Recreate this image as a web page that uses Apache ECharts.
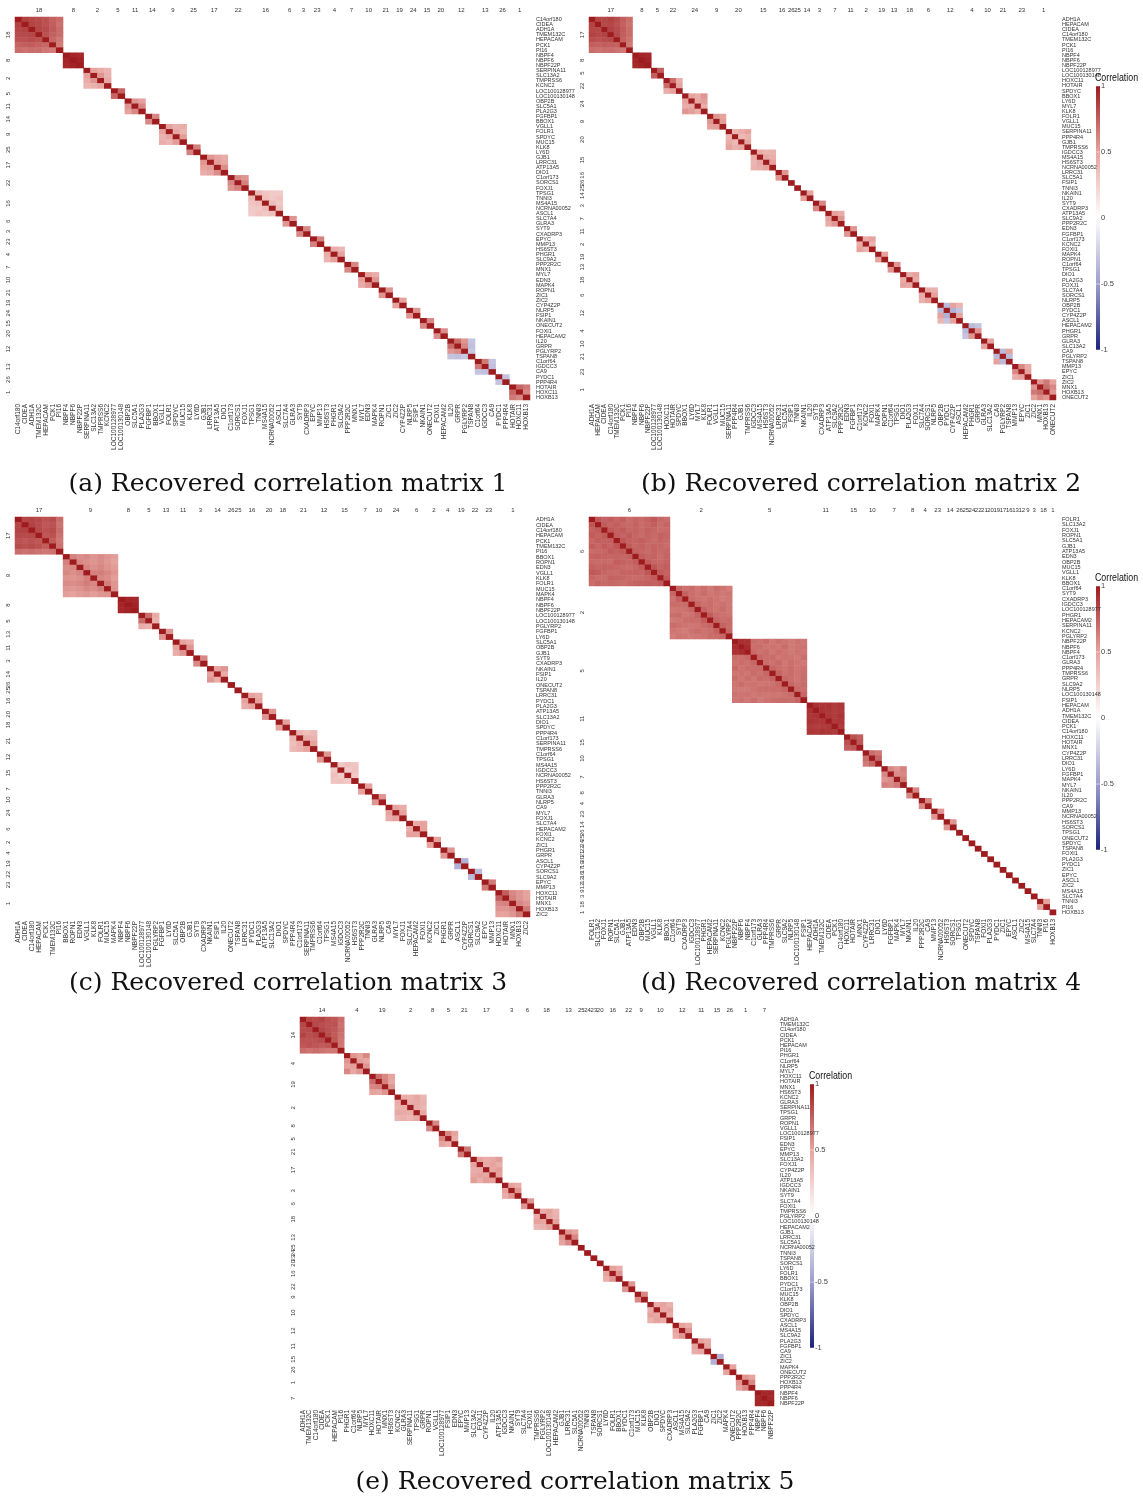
<!DOCTYPE html>
<html>
<head>
<meta charset="utf-8">
<script src="https://cdn.jsdelivr.net/npm/echarts@6/dist/echarts.min.js"></script>
<style>
  html, body { margin: 0; padding: 0; background: #fff; }
  #main { width: 1143px; height: 1498px; }
</style>
</head>
<body>
<div id="main"></div>
<script>
var chart = echarts.init(document.getElementById('main'));

// ---------- matrix 1 ----------
var genes1 = ['C14orf180','CIDEA','ADH1A','TMEM132C','HEPACAM','PCK1','PI16','NBPF4','NBPF6','NBPF22P',
  'SERPINA11','SLC13A2','TMPRSS6','KCNC2','LOC100128977','LOC100130148','OBP2B','SLC5A1','PLA2G3','FGFBP1',
  'BBOX1','VGLL1','FOLR1','SPDYC','MUC15','KLK8','LY6D','GJB1','LRRC31','ATP13A5','DIO1','C1orf173','SORCS1',
  'FOXJ1','TPSG1','TNNI3','MS4A15','NCRNA00052','ASCL1','SLC7A4','GLRA3','SYT9','CXADRP3','EPYC','MMP13',
  'HS6ST3','PHGR1','SLC9A2','PPP2R2C','MNX1','MYL7','EDN3','MAPK4','ROPN1','ZIC1','ZIC2','CYP4Z2P','NLRP5',
  'FSIP1','NKAIN1','ONECUT2','FOXI1','HEPACAM2','IL20','GRPR','PGLYRP2','TSPAN8','C1orf64','IGDCC3','CA9',
  'PYDC1','PPP4R4','HOTAIR','HOXC11','HOXB13'];
var clusters1 = [18,8,2,5,11,14,9,25,17,22,16,6,3,23,4,7,10,21,19,24,15,20,12,13,26,1];
var sizes1 = [7,3,4,2,3,2,4,2,4,3,5,2,2,2,3,2,3,2,2,2,2,2,4,3,2,3];
// upper triangle (row by row) of each block, diagonal = 1
var corr1 = [
  [0.86,0.84,0.82,0.80,0.74,0.70, 0.85,0.83,0.80,0.75,0.68, 0.84,0.82,0.76,0.70, 0.80,0.74,0.70, 0.72,0.66, 0.64],
  [0.96,0.95,0.97],
  [0.50,0.45,0.40,0.55,0.42,0.48],
  [0.72],
  [0.55,0.50,0.60],
  [0.60],
  [0.50,0.42,0.45,0.48,0.40,0.52],
  [0.62],
  [0.55,0.50,0.45,0.52,0.48,0.58],
  [0.60,0.55,0.62],
  [0.38,0.32,0.30,0.28,0.35,0.30,0.33,0.36,0.30,0.34],
  [0.55],
  [0.60],
  [0.62],
  [0.45,0.40,0.50],
  [0.60],
  [0.50,0.45,0.55],
  [0.55],
  [0.50],
  [0.55],
  [0.60],
  [0.58],
  [0.70,0.55,-0.30,0.60,-0.32,-0.28],
  [0.65,-0.30,-0.32],
  [-0.30],
  [0.72,0.65,0.60]
];

// ---------- matrix 2 ----------
var genes2 = ['ADH1A','HEPACAM','CIDEA','C14orf180','TMEM132C','PCK1','PI16','NBPF4','NBPF6','NBPF22P',
  'LOC100128977','LOC100130148','HOXC11','HOTAIR','SPDYC','BBOX1','LY6D','MYL7','KLK8','FOLR1','VGLL1','MUC15',
  'SERPINA11','PPP4R4','GJB1','TMPRSS6','IGDCC3','MS4A15','HS6ST3','NCRNA00052','LRRC31','SLC5A1','FSIP1',
  'TNNI3','NKAIN1','IL20','SYT9','CXADRP3','ATP13A5','SLC9A2','PPP2R2C','EDN3','FGFBP1','C1orf173','KCNC2',
  'FOXI1','MAPK4','ROPN1','C1orf64','TPSG1','DIO1','PLA2G3','FOXJ1','SLC7A4','SORCS1','NLRP5','OBP2B','PYDC1',
  'CYP4Z2P','ASCL1','HEPACAM2','PHGR1','GRPR','GLRA3','SLC13A2','CA9','PGLYRP2','TSPAN8','MMP13','EPYC','ZIC1',
  'ZIC2','MNX1','HOXB13','ONECUT2'];
var clusters2 = [17,8,5,22,24,9,20,15,16,26,25,14,3,7,11,2,19,13,18,6,12,4,10,21,23,1];
var sizes2 = [7,3,2,3,4,3,4,4,2,1,1,2,2,3,2,3,2,2,3,3,4,3,2,3,3,4];
var corr2 = [
  [0.85,0.84,0.86,0.82,0.75,0.70, 0.83,0.84,0.80,0.74,0.68, 0.86,0.82,0.76,0.70, 0.83,0.75,0.70, 0.74,0.68, 0.65],
  [0.96,0.95,0.97],
  [0.75],
  [0.70,0.45,0.50],
  [0.50,0.45,0.55,0.48,0.52,0.45],
  [0.55,0.50,0.52],
  [0.40,0.45,0.50,0.38,0.42,0.48],
  [0.45,0.40,0.42,0.48,0.44,0.50],
  [0.55],
  [],
  [],
  [0.50],
  [0.60],
  [0.50,0.45,0.55],
  [0.55],
  [0.45,0.50,0.42],
  [0.50],
  [0.55],
  [0.45,0.50,0.48],
  [0.45,0.42,0.50],
  [-0.35,0.50,0.40,-0.40,-0.30,0.50],
  [-0.35,-0.30,0.55],
  [0.50],
  [-0.35,0.50,-0.35],
  [0.60,0.45,0.50],
  [0.55,0.65,0.50,0.70,0.60,0.55]
];

// ---------- matrix 3 ----------
var genes3 = ['ADH1A','CIDEA','C14orf180','HEPACAM','PCK1','TMEM132C','PI16','BBOX1','ROPN1','EDN3','VGLL1',
  'KLK8','FOLR1','MUC15','MAPK4','NBPF4','NBPF6','NBPF22P','LOC100128977','LOC100130148','PGLYRP2','FGFBP1',
  'LY6D','SLC5A1','OBP2B','GJB1','SYT9','CXADRP3','NKAIN1','FSIP1','IL20','ONECUT2','TSPAN8','LRRC31','PYDC1',
  'PLA2G3','ATP13A5','SLC13A2','DIO1','SPDYC','PPP4R4','C1orf173','SERPINA11','TMPRSS6','C1orf64','TPSG1',
  'MS4A15','IGDCC3','NCRNA00052','HS6ST3','PPP2R2C','TNNI3','GLRA3','NLRP5','CA9','MYL7','FOXJ1','SLC7A4',
  'HEPACAM2','FOXI1','KCNC2','ZIC1','PHGR1','GRPR','ASCL1','CYP4Z2P','SORCS1','SLC9A2','EPYC','MMP13',
  'HOXC11','HOTAIR','MNX1','HOXB13','ZIC2'];
var clusters3 = [17,9,8,5,13,11,3,14,26,25,16,20,18,21,12,15,7,10,24,6,2,4,19,22,23,1];
var sizes3 = [7,8,3,3,2,3,2,3,1,1,3,2,2,4,2,4,2,2,3,3,2,2,2,2,2,5];
var corr3 = [
  [0.84,0.85,0.83,0.80,0.82,0.70, 0.86,0.82,0.78,0.80,0.68, 0.83,0.80,0.82,0.70, 0.78,0.80,0.68, 0.76,0.66, 0.68],
  [0.62,0.58,0.60,0.56,0.59,0.55,0.52, 0.60,0.57,0.55,0.58,0.54,0.50, 0.61,0.57,0.60,0.56,0.53,
   0.62,0.64,0.60,0.55, 0.60,0.58,0.52, 0.63,0.55, 0.56],
  [0.96,0.95,0.97],
  [0.70,0.45,0.42],
  [0.55],
  [0.50,0.45,0.55],
  [0.60],
  [0.50,0.55,0.45],
  [],
  [],
  [0.50,0.45,0.50],
  [0.55],
  [0.50],
  [0.40,0.35,0.38,0.45,0.42,0.50],
  [0.55],
  [0.30,0.35,0.32,0.28,0.33,0.30],
  [0.50],
  [0.55],
  [0.50,0.45,0.50],
  [0.45,0.50,0.50],
  [0.50],
  [0.55],
  [-0.40],
  [-0.35],
  [0.65],
  [0.75,0.60,0.55,0.50,0.62,0.55,0.50,0.60,0.55,0.65]
];

// ---------- matrix 4 ----------
var genes4 = ['FOLR1','SLC13A2','FOXJ1','ROPN1','SLC5A1','GJB1','ATP13A5','EDN3','OBP2B','MUC15','VGLL1',
  'KLK8','BBOX1','C1orf64','SYT9','CXADRP3','IGDCC3','LOC100128977','PHGR1','HEPACAM2','SERPINA11','KCNC2',
  'PGLYRP2','NBPF22P','NBPF6','NBPF4','C1orf173','GLRA3','PPP4R4','TMPRSS6','GRPR','SLC9A2','NLRP5',
  'LOC100130148','FSIP1','HEPACAM','ADH1A','TMEM132C','CIDEA','PCK1','C14orf180','HOXC11','HOTAIR','MNX1',
  'CYP4Z2P','LRRC31','DIO1','LY6D','FGFBP1','MAPK4','MYL7','NKAIN1','IL20','PPP2R2C','CA9','MMP13',
  'NCRNA00052','HS6ST3','SORCS1','TPSG1','ONECUT2','SPDYC','TSPAN8','FOXI1','PLA2G3','PYDC1','ZIC1','EPYC',
  'ASCL1','ZIC2','MS4A15','SLC7A4','TNNI3','PI16','HOXB13'];
var clusters4 = [6,2,5,11,15,10,7,8,4,23,14,26,25,24,22,21,20,19,17,16,13,12,9,3,18,1];
var sizes4 = [13,10,12,6,3,3,4,2,2,2,2,1,1,1,1,1,1,1,1,1,1,1,1,1,2,1];
var corr4 = [
  [0.78,0.74,0.76,0.72,0.75,0.70,0.73,0.71,0.74,0.77,0.72,0.70,
   0.76,0.73,0.75,0.72,0.71,0.74,0.70,0.72,0.75,0.70,0.73,
   0.77,0.74,0.76,0.72,0.73,0.71,0.74,0.72,0.70,0.71,
   0.75,0.73,0.76,0.72,0.70,0.73,0.71,0.74,0.72,
   0.78,0.74,0.73,0.75,0.72,0.70,0.73,0.71,
   0.76,0.72,0.74,0.71,0.73,0.72,0.70,
   0.74,0.72,0.70,0.73,0.71,0.72,
   0.75,0.72,0.74,0.70,0.73,
   0.76,0.72,0.71,0.74,
   0.78,0.73,0.75,
   0.76,0.74,
   0.77],
  [0.72,0.68,0.70,0.66,0.69,0.65,0.70,0.67,0.64,
   0.74,0.69,0.67,0.70,0.66,0.68,0.65,0.67,
   0.70,0.68,0.66,0.69,0.67,0.64,0.66,
   0.72,0.68,0.70,0.66,0.68,0.65,
   0.73,0.69,0.67,0.70,0.66,
   0.75,0.70,0.68,0.67,
   0.72,0.69,0.70,
   0.74,0.70,
   0.72],
  [0.93,0.92,0.70,0.68,0.71,0.66,0.69,0.67,0.65,0.68,0.66,
   0.94,0.69,0.70,0.67,0.68,0.66,0.70,0.65,0.67,0.68,
   0.71,0.68,0.70,0.66,0.69,0.67,0.65,0.68,0.66,
   0.72,0.69,0.70,0.66,0.68,0.67,0.65,0.69,
   0.70,0.68,0.71,0.66,0.69,0.67,0.65,
   0.72,0.69,0.67,0.70,0.66,0.68,
   0.73,0.68,0.70,0.67,0.69,
   0.71,0.69,0.66,0.70,
   0.72,0.68,0.70,
   0.70,0.69,
   0.72],
  [0.92,0.90,0.91,0.88,0.90, 0.91,0.90,0.87,0.89, 0.90,0.88,0.91, 0.89,0.90, 0.88],
  [0.80,0.75,0.78],
  [0.70,0.65,0.72],
  [0.60,0.55,0.62,0.58,0.60,0.65],
  [0.60],
  [0.60],
  [0.55],
  [0.55],
  [],[],[],[],[],[],[],[],[],[],[],[],[],
  [0.50],
  []
];

// ---------- matrix 5 ----------
var genes5 = ['ADH1A','TMEM132C','C14orf180','CIDEA','PCK1','HEPACAM','PI16','PHGR1','C1orf64','NLRP5','MYL7',
  'HOXC11','HOTAIR','MNX1','HS6ST3','KCNC2','GLRA3','SERPINA11','TPSG1','GRPR','ROPN1','VGLL1',
  'LOC100128977','FSIP1','EDN3','EPYC','MMP13','SLC13A2','FOXJ1','CYP4Z2P','IL20','ATP13A5','IGDCC3',
  'NKAIN1','SYT9','SLC7A4','FOXI1','TMPRSS6','PGLYRP2','LOC100130148','HEPACAM2','GJB1','LRRC31','SLC5A1',
  'NCRNA00052','TNNI3','TSPAN8','SORCS1','LY6D','FOLR1','BBOX1','PYDC1','C1orf173','MUC15','KLK8','OBP2B',
  'DIO1','SPDYC','CXADRP3','ASCL1','MS4A15','SLC9A2','PLA2G3','FGFBP1','CA9','ZIC1','ZIC2','MAPK4','ONECUT2',
  'PPP2R2C','HOXB13','PPP4R4','NBPF4','NBPF6','NBPF22P'];
var clusters5 = [14,4,19,2,8,5,21,17,3,6,18,13,25,24,23,20,16,22,9,10,12,11,15,26,1,7];
var sizes5 = [7,4,4,5,2,3,2,5,3,2,4,3,1,1,1,1,3,2,2,4,3,3,2,2,3,3];
var corr5 = [
  [0.84,0.82,0.85,0.80,0.78,0.70, 0.83,0.81,0.79,0.80,0.68, 0.84,0.80,0.78,0.70, 0.82,0.76,0.68, 0.78,0.66, 0.66],
  [0.55,0.50,0.60,0.52,0.48,0.55],
  [0.70,0.60,0.50,0.62,0.48,0.55],
  [0.45,0.42,0.48,0.40,0.44,0.46,0.42,0.45,0.40,0.47],
  [0.60],
  [0.60,0.50,0.45],
  [0.65],
  [0.50,0.45,0.48,0.52,0.46,0.50,0.44,0.48,0.52,0.50],
  [0.50,0.45,0.55],
  [0.55],
  [0.45,0.50,0.40,0.48,0.42,0.50],
  [0.55,0.50,0.60],
  [],[],[],[],
  [0.50,0.45,0.55],
  [0.55],
  [0.60],
  [0.45,0.50,0.42,0.48,0.50,0.45],
  [0.50,0.45,0.55],
  [0.50,0.45,0.48],
  [-0.40],
  [0.50],
  [0.55,0.50,0.60],
  [0.95,0.96,0.95]
];

var colorStops = ['#1c237a', '#9d9dcc', '#ffffff', '#e6a39e', '#9e1b1e'];
var labelFont = 'Liberation Sans';

function buildCells(sizes, corr) {
  var cells = [], start = 0;
  sizes.forEach(function (k, b) {
    var vals = corr[b], p = 0;
    for (var i = 0; i < k; i++) {
      cells.push([start + i, start + i, 1]);
      for (var j = i + 1; j < k; j++) {
        var v = vals[p++];
        cells.push([start + j, start + i, v]);
        cells.push([start + i, start + j, v]);
      }
    }
    start += k;
  });
  return cells;
}

function buildBlocks(sizes, clusters) {
  var out = [], start = 0;
  sizes.forEach(function (k, b) {
    out.push([start, start + k - 1, clusters[b]]);
    start += k;
  });
  return out;
}

function renderBlockTitle(params, api) {
  var s = api.value(0), e = api.value(1), id = api.value(2);
  var a = api.coord([s, s]), b = api.coord([e, e]);
  var cs = params.coordSys;
  var cx = (a[0] + b[0]) / 2, cy = (a[1] + b[1]) / 2;
  var st = { text: String(id), fontSize: 6, fill: '#333', fontFamily: labelFont };
  return {
    type: 'group',
    children: [
      { type: 'text', x: cx, y: cs.y - 4,
        style: Object.assign({ align: 'center', verticalAlign: 'bottom' }, st) },
      { type: 'text', x: cs.x - 4, y: cy, rotation: Math.PI / 2,
        style: Object.assign({ align: 'center', verticalAlign: 'bottom' }, st) }
    ]
  };
}

var panels = [
  { genes: genes1, clusters: clusters1, sizes: sizes1, corr: corr1, left: 15, top: 17, width: 515, height: 383 },
  { genes: genes2, clusters: clusters2, sizes: sizes2, corr: corr2, left: 589, top: 17, width: 467, height: 383 },
  { genes: genes3, clusters: clusters3, sizes: sizes3, corr: corr3, left: 15, top: 517, width: 515, height: 400 },
  { genes: genes4, clusters: clusters4, sizes: sizes4, corr: corr4, left: 589, top: 517, width: 467, height: 398 },
  { genes: genes5, clusters: clusters5, sizes: sizes5, corr: corr5, left: 300, top: 1017, width: 474, height: 389 }
];

var grids = [], xAxes = [], yAxes = [], series = [], heatIdx = [];
panels.forEach(function (p, i) {
  grids.push({ left: p.left, top: p.top, width: p.width, height: p.height });
  xAxes.push({
    type: 'category', gridIndex: i, data: p.genes, position: 'bottom',
    axisLine: { show: false }, axisTick: { show: false }, splitLine: { show: false },
    axisLabel: { interval: 0, rotate: 90, fontSize: 6.5, margin: 4, color: '#333', fontFamily: labelFont }
  });
  yAxes.push({
    type: 'category', gridIndex: i, data: p.genes, position: 'right', inverse: true,
    axisLine: { show: false }, axisTick: { show: false }, splitLine: { show: false },
    axisLabel: { interval: 0, fontSize: 5.5, margin: 6, color: '#333', fontFamily: labelFont }
  });
  heatIdx.push(series.length);
  series.push({
    type: 'heatmap', xAxisIndex: i, yAxisIndex: i,
    data: buildCells(p.sizes, p.corr), emphasis: { disabled: true }, progressive: 0
  });
  series.push({
    type: 'custom', xAxisIndex: i, yAxisIndex: i, silent: true,
    renderItem: renderBlockTitle, data: buildBlocks(p.sizes, p.clusters), clip: false, z: 5
  });
});

function colorbar(x, y, h) {
  var els = [];
  // condensed title, like the narrow face of the original
  els.push({ type: 'text', x: x - 1, y: y - 3, scaleX: 0.8,
    style: { text: 'Correlation', fontSize: 11, fontFamily: labelFont, fill: '#111', verticalAlign: 'bottom' } });
  els.push({ type: 'rect', shape: { x: x, y: y, width: 4, height: h },
    style: { fill: new echarts.graphic.LinearGradient(0, 0, 0, 1, [
      { offset: 0, color: colorStops[4] }, { offset: 0.25, color: colorStops[3] },
      { offset: 0.5, color: colorStops[2] }, { offset: 0.75, color: colorStops[1] },
      { offset: 1, color: colorStops[0] }]) } });
  ['1', '0.5', '0', '-0.5', '-1'].forEach(function (t, k) {
    var ty = y + h * k / 4;
    els.push({ type: 'line', shape: { x1: x, y1: ty, x2: x + 4, y2: ty },
      style: { stroke: 'rgba(255,255,255,0.8)', lineWidth: 0.6 } });
    els.push({ type: 'text', x: x + 5, y: ty,
      style: { text: t, fontSize: 7.5, fontFamily: labelFont, fill: '#444', verticalAlign: 'middle' } });
  });
  return els;
}

function caption(text, cx, cy) {
  return { type: 'text', x: cx, y: cy,
    style: { text: text, fontSize: 25, fontFamily: 'DejaVu Serif', fill: '#111', align: 'center', verticalAlign: 'middle' } };
}

var graphics = []
  .concat(colorbar(1096, 86, 264))
  .concat(colorbar(1096, 586, 264))
  .concat(colorbar(810, 1084, 264))
  .concat([
    caption('(a) Recovered correlation matrix 1', 288, 484),
    caption('(b) Recovered correlation matrix 2', 861, 484),
    caption('(c) Recovered correlation matrix 3', 288, 983),
    caption('(d) Recovered correlation matrix 4', 861, 983),
    caption('(e) Recovered correlation matrix 5', 575, 1482)
  ]);

var option = {
  backgroundColor: '#fff',
  animation: false,
  grid: grids,
  xAxis: xAxes,
  yAxis: yAxes,
  visualMap: [{
    show: false, type: 'continuous', min: -1, max: 1, seriesIndex: heatIdx,
    inRange: { color: colorStops }
  }],
  graphic: graphics,
  series: series
};
chart.setOption(option);
</script>
</body>
</html>
